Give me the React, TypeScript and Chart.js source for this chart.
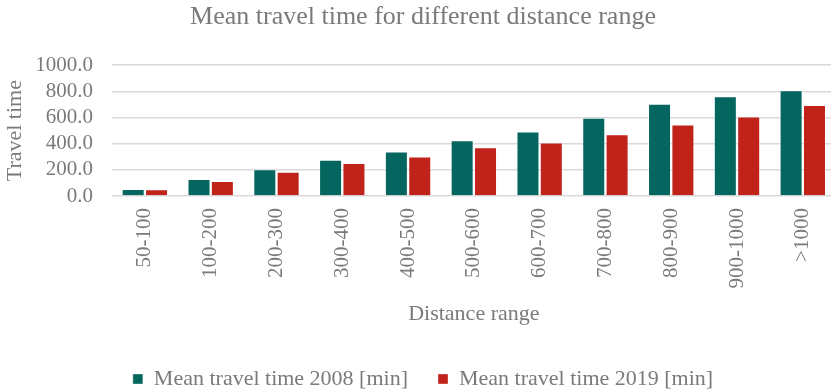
import React, { useEffect, useRef } from "react";
import { Chart, registerables } from "chart.js";

Chart.register(...registerables);

const categories = ["50-100", "100-200", "200-300", "300-400", "400-500", "500-600", "600-700", "700-800", "800-900", "900-1000", ">1000"];
const series2008 = [54, 130, 206, 277, 341, 426, 494, 598, 705, 763, 809];
const series2019 = [53, 115, 186, 252, 303, 374, 410, 473, 547, 608, 696];
const yTicks = [0, 200, 400, 600, 800, 1000];

const FONT = "'Liberation Serif', 'Times New Roman', serif";
const TEXT = "#7a7a7a";

export default function App() {
  const ref = useRef<HTMLCanvasElement | null>(null);
  useEffect(() => {
    document.body.style.margin = "0";
    const ctx = ref.current!;
    const chart = new Chart(ctx, {
      type: "bar",
      data: {
        labels: categories,
        datasets: [
          {
            label: "Mean travel time 2008 [min]",
            data: series2008,
            backgroundColor: "#05665f",
            borderColor: "rgba(255,255,255,0.35)",
            borderWidth: 1,
            categoryPercentage: 0.71,
            barPercentage: 0.985,
          },
          {
            label: "Mean travel time 2019 [min]",
            data: series2019,
            backgroundColor: "#c0231a",
            borderColor: "rgba(255,255,255,0.35)",
            borderWidth: 1,
            categoryPercentage: 0.71,
            barPercentage: 0.985,
          },
        ],
      },
      options: {
        animation: false,
        responsive: false,
        layout: { padding: { left: 2, right: -4, top: 0, bottom: 2 } },
        plugins: {
          title: {
            display: true,
            text: "Mean travel time for different distance range",
            color: TEXT,
            font: { family: FONT, size: 26, weight: "normal" },
            padding: { top: 2, bottom: 32 },
          },
          legend: {
            position: "bottom",
            labels: {
              color: TEXT,
              font: { family: FONT, size: 22 },
              boxWidth: 10,
              boxHeight: 10,
              padding: 30,
            },
          },
          tooltip: { enabled: false },
        },
        scales: {
          x: {
            grid: { display: false, drawTicks: false },
            border: { display: false },
            ticks: {
              color: TEXT,
              font: { family: FONT, size: 21 },
              maxRotation: 90,
              minRotation: 90,
              padding: 12,
            },
            title: {
              display: true,
              text: "Distance range",
              color: TEXT,
              font: { family: FONT, size: 22 },
              padding: { top: 0, bottom: 11 },
            },
          },
          y: {
            min: 0,
            max: 1000,
            afterBuildTicks: (axis: any) => {
              axis.ticks = yTicks.map((v) => ({ value: v }));
            },
            afterFit: (axis: any) => {
              axis.width = 110;
            },
            grid: { color: "#d9d9d9", lineWidth: 1.5, drawTicks: false },
            border: { display: false },
            ticks: {
              color: TEXT,
              font: { family: FONT, size: 21 },
              padding: 19,
              autoSkip: false,
              callback: (v: any) => Number(v).toFixed(1),
            },
            title: {
              display: true,
              text: "Travel time",
              color: TEXT,
              font: { family: FONT, size: 22 },
              padding: { top: 0, bottom: 0 },
            },
          },
        },
      },
    });
    return () => chart.destroy();
  }, []);
  return (
    <div style={{ position: "absolute", left: 0, top: 0, width: 831, height: 392, overflow: "hidden", background: "#fff" }}>
      <canvas ref={ref} width={840} height={402} />
    </div>
  );
}
